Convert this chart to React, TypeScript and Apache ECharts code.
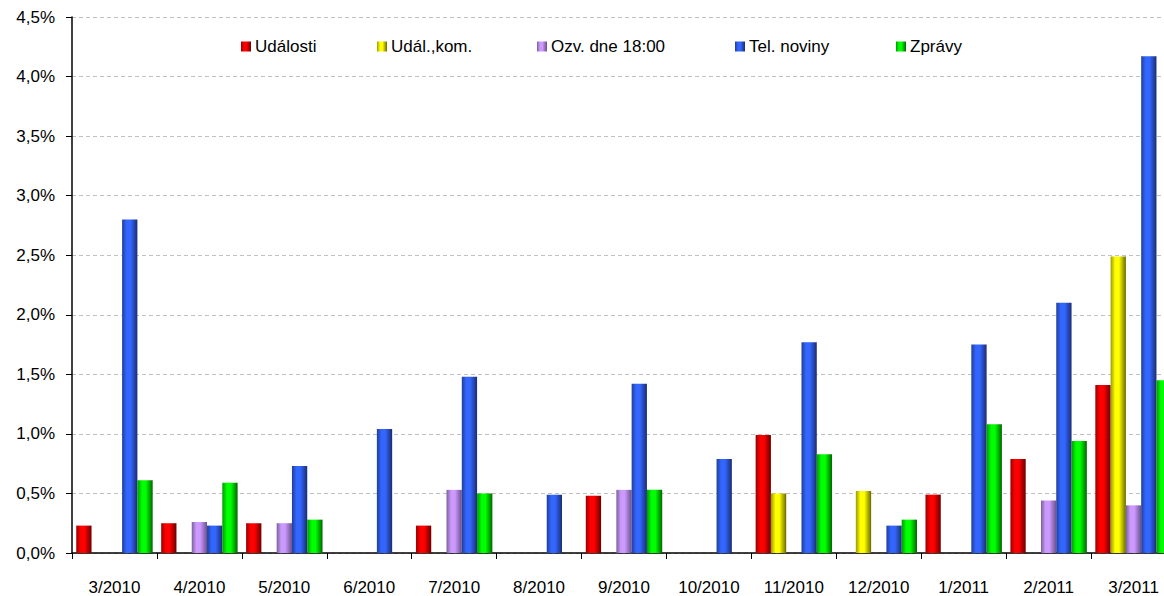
import React, { useEffect, useRef } from "react";
import * as echarts from "echarts";

const categories = ["3/2010", "4/2010", "5/2010", "6/2010", "7/2010", "8/2010", "9/2010", "10/2010", "11/2010", "12/2010", "1/2011", "2/2011", "3/2011"];
const seriesNames = ["Události", "Udál.,kom.", "Ozv. dne 18:00", "Tel. noviny", "Zprávy"];
const udalosti = [0.23, 0.25, 0.25, 0, 0.23, 0, 0.48, 0, 0.99, 0, 0.49, 0.79, 1.41];
const udalKom = [0, 0, 0, 0, 0, 0, 0, 0, 0.5, 0.52, 0, 0, 2.49];
const ozvDne = [0, 0.26, 0.25, 0, 0.53, 0, 0.53, 0, 0, 0, 0, 0.44, 0.4];
const telNoviny = [2.8, 0.23, 0.73, 1.04, 1.48, 0.49, 1.42, 0.79, 1.77, 0.23, 1.75, 2.1, 4.17];
const zpravy = [0.61, 0.59, 0.28, 0, 0.5, 0, 0.53, 0, 0.83, 0.28, 1.08, 0.94, 1.45];
const seriesValues = [udalosti, udalKom, ozvDne, telNoviny, zpravy];

const palette = [
  ["#9a0000", "#ff0000", "#6a0000"],
  ["#9a9a00", "#ffff00", "#6a6a00"],
  ["#7a6099", "#cc99ff", "#6a5088"],
  ["#1f3d99", "#3366ff", "#1a2d70"],
  ["#009a00", "#00ff00", "#006600"],
];
const legendLeft = [236, 372, 532, 730, 891];

const grad = (c: string[]) =>
  new echarts.graphic.LinearGradient(0, 0, 1, 0, [
    { offset: 0, color: c[0] },
    { offset: 0.3, color: c[1] },
    { offset: 0.55, color: c[1] },
    { offset: 1, color: c[2] },
  ]);

const FONT = "'Liberation Sans', Arial, sans-serif";

export default function App() {
  const ref = useRef<HTMLDivElement>(null);
  useEffect(() => {
    if (!ref.current) return;
    const chart = echarts.init(ref.current, null, { renderer: "svg" });
    chart.setOption({
      animation: false,
      backgroundColor: "#ffffff",
      textStyle: { fontFamily: FONT, color: "#000" },
      legend: seriesNames.map((n, i) => ({
        data: [n],
        left: legendLeft[i],
        top: 33,
        itemWidth: 10,
        itemHeight: 10,
        itemGap: 5,
        icon: "rect",
        textStyle: { fontFamily: FONT, fontSize: 17, color: "#000", padding: [0, 0, 0, -1] },
        selectedMode: false,
      })),
      grid: { left: 72, top: 17, right: 4, bottom: 40, containLabel: false },
      xAxis: {
        type: "category",
        data: categories,
        boundaryGap: true,
        axisLine: { lineStyle: { color: "#000", width: 1.5 } },
        axisTick: { show: true, interval: 0, length: 6, lineStyle: { color: "#000" } },
        axisLabel: { interval: 0, margin: 26, fontSize: 17, color: "#000", fontFamily: FONT },
      },
      yAxis: {
        type: "value",
        min: 0,
        max: 4.5,
        interval: 0.5,
        axisLine: { show: true, lineStyle: { color: "#000", width: 1.5 } },
        axisTick: { show: true, length: 6, lineStyle: { color: "#000" } },
        axisLabel: {
          margin: 17,
          fontSize: 17,
          color: "#000",
          fontFamily: FONT,
          formatter: (v: number) => v.toFixed(1).replace(".", ",") + "%",
        },
        splitLine: { show: true, lineStyle: { color: "#c0c0c0", type: [4, 3], width: 1 } },
      },
      series: seriesNames.map((n, i) => ({
        name: n,
        type: "bar",
        data: seriesValues[i],
        barGap: "0%",
        barCategoryGap: "10%",
        itemStyle: { color: grad(palette[i]) },
      })),
    });
    return () => chart.dispose();
  }, []);
  return <div ref={ref} style={{ position: "fixed", left: 0, top: 0, width: 1180, height: 596 }} />;
}
